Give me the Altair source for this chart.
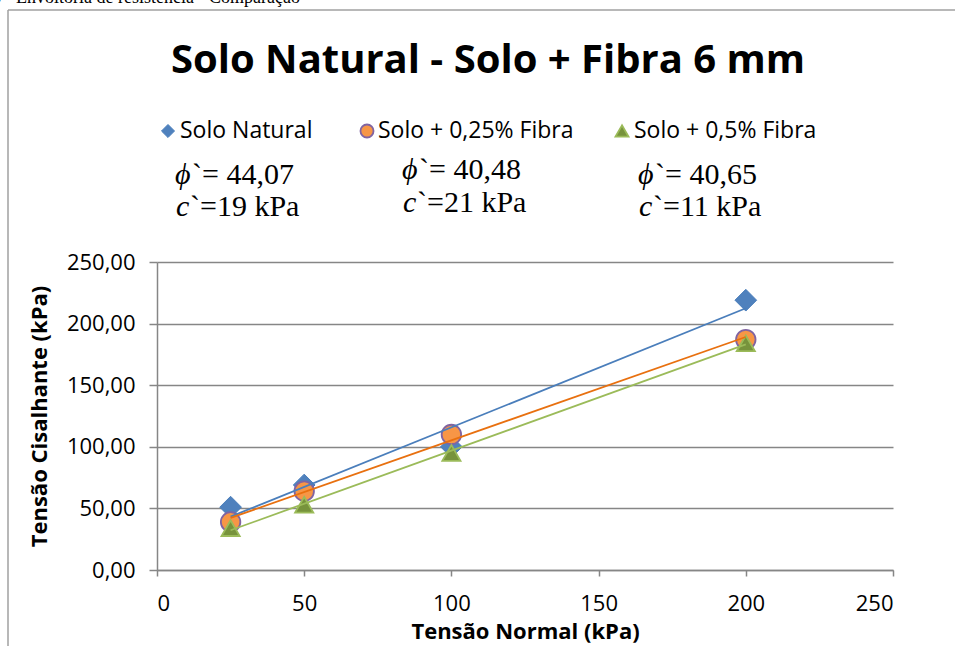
import altair as alt
import pandas as pd

# ---- data ----
tensao_normal = [25, 50, 100, 200]
solo_natural = [51, 69, 100, 219]
solo_025 = [39, 64, 110, 187]
solo_05 = [34, 53, 95, 184]
series_names = ["Solo Natural", "Solo + 0,25% Fibra", "Solo + 0,5% Fibra"]
phi_values = ["44,07", "40,48", "40,65"]
c_values = ["19", "21", "11"]
x_ticks = [0, 50, 100, 150, 200, 250]
y_ticks = [0, 50, 100, 150, 200, 250]
title_text = "Solo Natural - Solo + Fibra 6 mm"
caption_text = "Figura 4.6 - Envoltória de resistência - Comparação"

rows = []
for name, vals in zip(series_names, [solo_natural, solo_025, solo_05]):
    for xv, yv in zip(tensao_normal, vals):
        rows.append({"serie": name, "normal": xv, "cisalhante": yv})
df = pd.DataFrame(rows)

# ---- layout ----
W, H = 736, 308
PL, PT, PR, PB = 157, 262, 62, 76
FONT = "Open Sans"
GRAY = "#868686"

xscale = alt.Scale(domain=[0, 250], nice=False, zero=True)
yscale = alt.Scale(domain=[0, 250], nice=False, zero=True)

styles = [
    dict(shape="diamond", fill="#4F81BD", stroke="#4A7EBB", size=470, sw=1, line="#4A7EBB"),
    dict(shape="circle", fill="#F79646", stroke="#8064A2", size=380, sw=1.8, line="#E8700F"),
    dict(shape="triangle-up", fill="#77933C", stroke="#9BBB59", size=330, sw=1.8, line="#9BBB59"),
]

layers = []
for i, (name, st) in enumerate(zip(series_names, styles)):
    if i == 0:
        xenc = alt.X("normal:Q", scale=xscale, axis=alt.Axis(
            title="Tensão Normal (kPa)", values=x_ticks, format="d", grid=False,
            tickSize=6, labelPadding=17, titlePadding=7))
        yenc = alt.Y("cisalhante:Q", scale=yscale, axis=alt.Axis(
            title="Tensão Cisalhante (kPa)", values=y_ticks, grid=True,
            labelExpr="replace(format(datum.value, '.2f'), '.', ',')",
            tickSize=8, labelPadding=14, titlePadding=15))
    else:
        xenc = alt.X("normal:Q", scale=xscale)
        yenc = alt.Y("cisalhante:Q", scale=yscale)
    layers.append(
        alt.Chart(df).transform_filter(alt.datum.serie == name)
        .mark_point(shape=st["shape"], filled=True, fill=st["fill"], stroke=st["stroke"],
                    strokeWidth=st["sw"], size=st["size"], opacity=1)
        .encode(x=xenc, y=yenc)
    )

for name, st in zip(series_names, styles):
    layers.append(
        alt.Chart(df).transform_filter(alt.datum.serie == name)
        .transform_regression("normal", "cisalhante")
        .mark_line(color=st["line"], strokeWidth=1.8)
        .encode(x=alt.X("normal:Q", scale=xscale), y=alt.Y("cisalhante:Q", scale=yscale))
    )

def txt(text, x, y, size, font=FONT, weight="normal", style="normal", align="left",
        baseline="middle", color="black"):
    return alt.Chart(pd.DataFrame({"t": [text]})).mark_text(
        font=font, fontSize=size, fontWeight=weight, fontStyle=style, align=align,
        baseline=baseline, color=color
    ).encode(x=alt.value(x), y=alt.value(y), text="t:N")

def sym(st, x, y, size):
    return alt.Chart(pd.DataFrame({"t": [0]})).mark_point(
        shape=st["shape"], filled=True, fill=st["fill"], stroke=st["stroke"],
        strokeWidth=st["sw"], size=size, opacity=1
    ).encode(x=alt.value(x), y=alt.value(y))

# title
layers.append(txt(title_text, 488 - PL, 61 - PT, 40, weight="bold", align="center"))

# legend (absolute positions converted to plot coordinates)
leg_sym_x = [168, 367, 622]
leg_txt_x = [180, 378, 634]
leg_y = 131
for name, st, sx, tx in zip(series_names, styles, leg_sym_x, leg_txt_x):
    layers.append(sym(st, sx - PL, leg_y - PT, 170))
    layers.append(txt(name, tx - PL, leg_y - PT, 23))

# phi / c annotations
ann_x = [175, 402, 638]
ann_phi_y = [175, 170, 175]
ann_c_y = [207, 203, 207]
SERIF = "Liberation Serif"
for ax, py, cy, ph, cv in zip(ann_x, ann_phi_y, ann_c_y, phi_values, c_values):
    layers.append(txt("ϕ", ax - PL, py - PT, 30, font=SERIF, style="italic"))
    layers.append(txt("`= " + ph, ax + 17 - PL, py - PT, 30, font=SERIF))
    layers.append(txt("c", ax + 1 - PL, cy - PT, 30, font=SERIF, style="italic"))
    layers.append(txt("`=" + cv + " kPa", ax + 15 - PL, cy - PT, 30, font=SERIF))

# caption cut at the top of the page
layers.append(txt(caption_text, 300 - PL, 3 - PT, 18, font=SERIF, align="right",
                  baseline="alphabetic"))

# frame of the chart object
FRAME = "#A0A0A0"
layers.append(alt.Chart(pd.DataFrame({"t": [0]})).mark_rule(color=FRAME, strokeWidth=1.5)
              .encode(x=alt.value(8 - PL), y=alt.value(10 - PT), y2=alt.value(646 - PT)))
layers.append(alt.Chart(pd.DataFrame({"t": [0]})).mark_rule(color=FRAME, strokeWidth=1.5)
              .encode(x=alt.value(8 - PL), x2=alt.value(955 - PL), y=alt.value(10 - PT)))

chart = alt.layer(*layers).properties(
    width=W, height=H,
    autosize=alt.AutoSizeParams(type="none"),
    padding={"left": PL, "top": PT, "right": PR, "bottom": PB},
    background="white",
).configure_view(stroke=None).configure_axis(
    domainColor=GRAY, domainWidth=1.5, tickColor=GRAY, tickWidth=1.5,
    gridColor=GRAY, gridWidth=1.5, gridOpacity=1,
    labelFont=FONT, labelFontSize=22, labelColor="black",
    titleFont=FONT, titleFontSize=22, titleFontWeight="bold", titleColor="black",
)

chart.save("out.html", embed_options={"renderer": "svg", "actions": False})
